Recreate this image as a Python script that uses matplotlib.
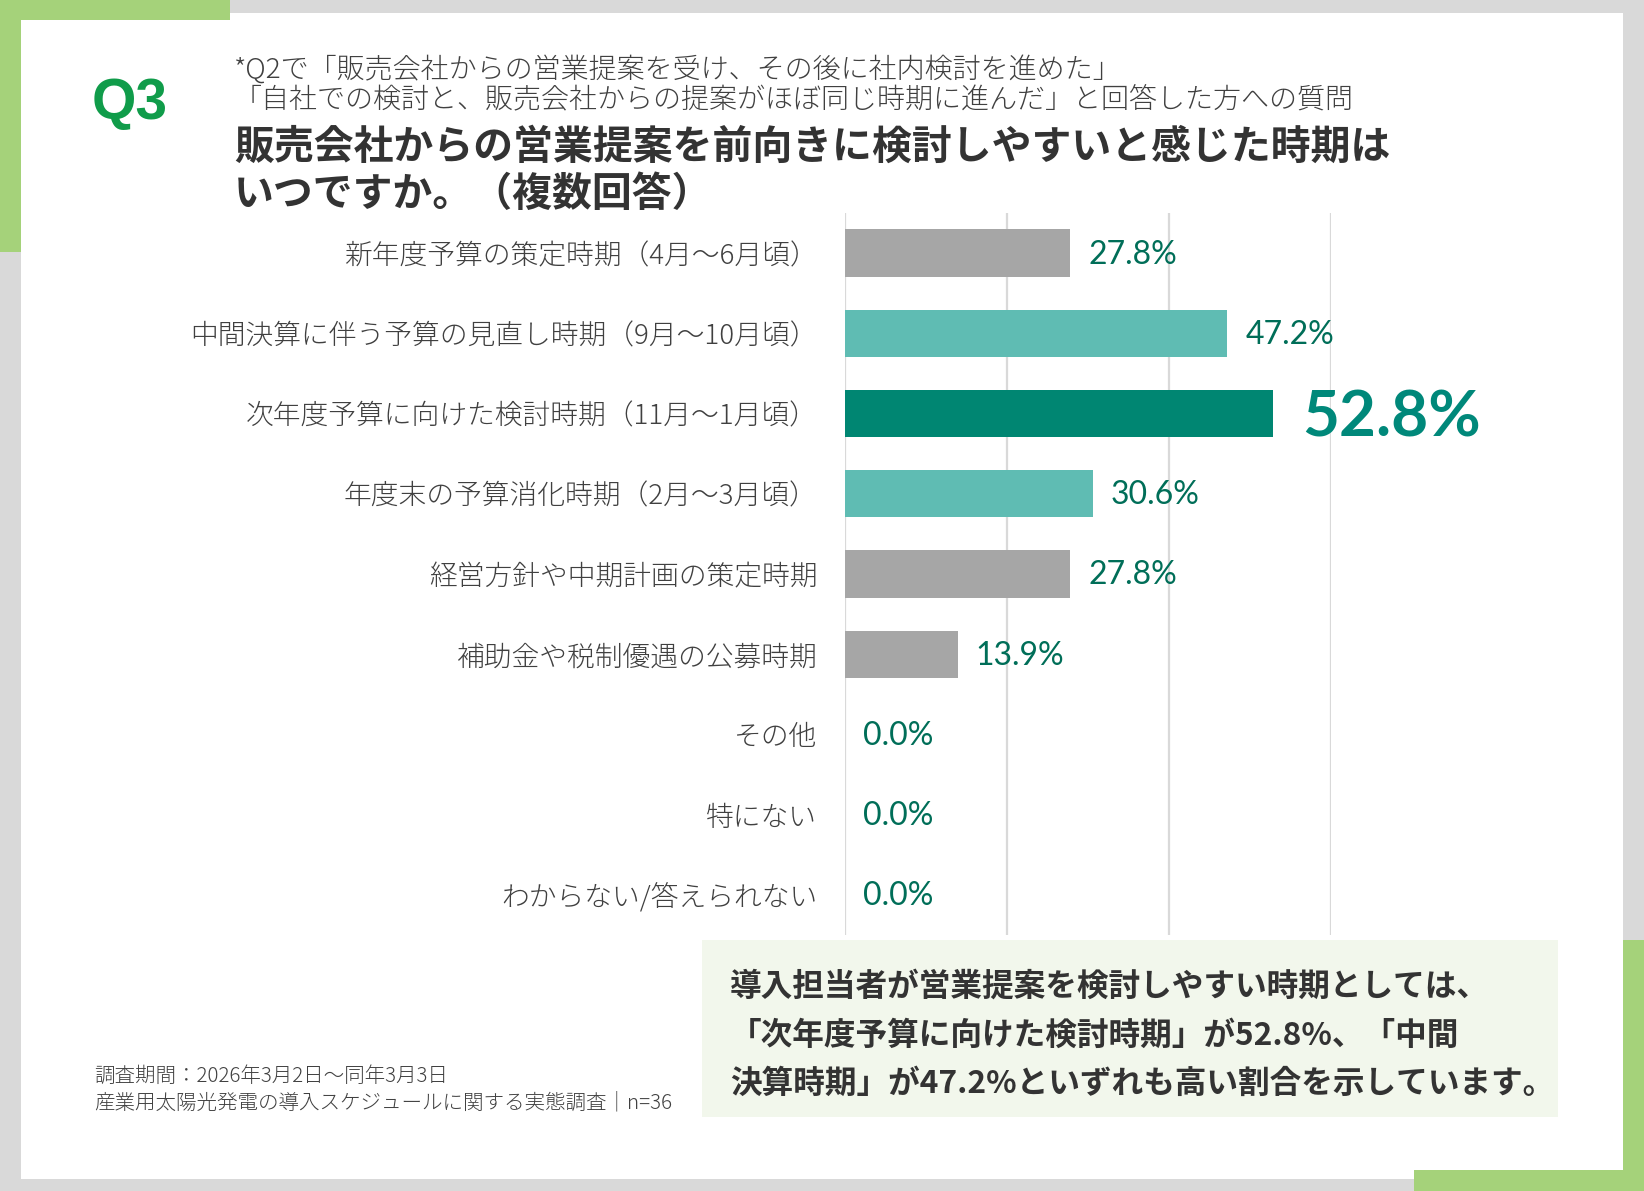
import matplotlib
matplotlib.use("Agg")
import matplotlib.pyplot as plt
from matplotlib.patches import Rectangle

# ---------------- data ----------------
categories = [
    "新年度予算の策定時期（4月〜6月頃）",
    "中間決算に伴う予算の見直し時期（9月〜10月頃）",
    "次年度予算に向けた検討時期（11月〜1月頃）",
    "年度末の予算消化時期（2月〜3月頃）",
    "経営方針や中期計画の策定時期",
    "補助金や税制優遇の公募時期",
    "その他",
    "特にない",
    "わからない/答えられない",
]
values = [27.8, 47.2, 52.8, 30.6, 27.8, 13.9, 0.0, 0.0, 0.0]
bar_colors = ["#a6a6a6", "#5fbcb3", "#008672", "#5fbcb3", "#a6a6a6",
              "#a6a6a6", "#a6a6a6", "#a6a6a6", "#a6a6a6"]
x_ticks = [0, 20, 40, 60]

q_label = "Q3"
subtitle_lines = [
    "*Q2で「販売会社からの営業提案を受け、その後に社内検討を進めた」",
    "「自社での検討と、販売会社からの提案がほぼ同じ時期に進んだ」と回答した方への質問",
]
title_lines = [
    "販売会社からの営業提案を前向きに検討しやすいと感じた時期は",
    "いつですか。（複数回答）",
]
footer_lines = [
    "調査期間：2026年3月2日〜同年3月3日",
    "産業用太陽光発電の導入スケジュールに関する実態調査｜n=36",
]
summary_lines = [
    "導入担当者が営業提案を検討しやすい時期としては、",
    "「次年度予算に向けた検討時期」が52.8%、「中間",
    "決算時期」が47.2%といずれも高い割合を示しています。",
]

# ---------------- figure ----------------
W, H = 1644, 1191
fig = plt.figure(figsize=(W / 100, H / 100), dpi=100)
fig.patch.set_facecolor("#d9d9d9")

JP = ["Noto Sans CJK JP", "DejaVu Sans"]


def fx(px):
    return px / W


def fy(py):
    return 1 - py / H


def rect(x0, y0, x1, y1, color, z=0):
    fig.patches.append(Rectangle((fx(x0), fy(y1)), fx(x1) - fx(x0), fy(y0) - fy(y1),
                                 transform=fig.transFigure, facecolor=color,
                                 edgecolor="none", zorder=z))


# white panel
rect(21, 13, 1623, 1179, "white", -3)
# green accents
green = "#a5d27a"
rect(0, 0, 230, 20, green, -2)
rect(0, 0, 21, 252, green, -2)
rect(1623, 940, 1644, 1191, green, -2)
rect(1414, 1170, 1644, 1191, green, -2)
# summary box
rect(702, 940, 1558, 1117, "#f2f7ec", -2)

# ---------------- axes ----------------
ax = fig.add_axes([fx(845), fy(935), fx(1331) - fx(845), fy(213) - fy(935)])
ax.set_zorder(5)
ax.set_facecolor("none")
ypos = list(range(len(categories)))
ax.barh(ypos, values, height=0.59, color=bar_colors, zorder=3)
ax.set_xlim(0, 60)
ax.set_ylim(len(categories) - 0.5, -0.5)
ax.set_xticks(x_ticks)
ax.set_xticklabels([])
ax.grid(axis="x", color="#d9d9d9", linewidth=1.6, zorder=0)
ax.set_axisbelow(True)
for s in ax.spines.values():
    s.set_visible(False)
ax.tick_params(axis="both", length=0)
ax.set_yticks(ypos)
ax.set_yticklabels(categories, family=JP, fontsize=20, color="#404040",
                   fontweight="light")
ax.tick_params(axis="y", pad=20)

top_idx = values.index(max(values))
for i, v in enumerate(values):
    if i == top_idx:
        ax.annotate(f"{v:.1f}%", xy=(v, i), xytext=(21, -3), textcoords="offset points",
                    va="center", ha="left", fontsize=46, fontweight="bold",
                    family=["Lato", "DejaVu Sans"], color="#00887a",
                    annotation_clip=False)
    else:
        ax.annotate(f"{v:.1f}%", xy=(v, i), xytext=(13, -1), textcoords="offset points",
                    va="center", ha="left", fontsize=23,
                    family=["Lato", "DejaVu Sans"], color="#006e58",
                    annotation_clip=False)

# ---------------- texts ----------------
fig.text(fx(92), fy(104), q_label, fontsize=41, fontweight="bold",
         family=["Liberation Sans", "DejaVu Sans"], color="#109c4a",
         va="center", ha="left")

for k, line in enumerate(subtitle_lines):
    fig.text(fx(234), fy(69 + 31 * k), line, fontsize=20.2, family=JP,
             fontweight="light", color="#404040", va="center", ha="left")

for k, line in enumerate(title_lines):
    fig.text(fx(234), fy(147 + 47 * k), line, fontsize=28.7, fontweight="bold",
             family=JP, color="#333333", va="center", ha="left")

for k, line in enumerate(footer_lines):
    fig.text(fx(94), fy(1076 + 27 * k), line, fontsize=14.8, family=JP,
             fontweight="light", color="#404040", va="center", ha="left")

for k, line in enumerate(summary_lines):
    fig.text(fx(730), fy(987 + 48.5 * k), line, fontsize=22.8, fontweight="bold",
             family=JP, color="#333333", va="center", ha="left")

fig.savefig("out.png", dpi=100, facecolor=fig.get_facecolor())
